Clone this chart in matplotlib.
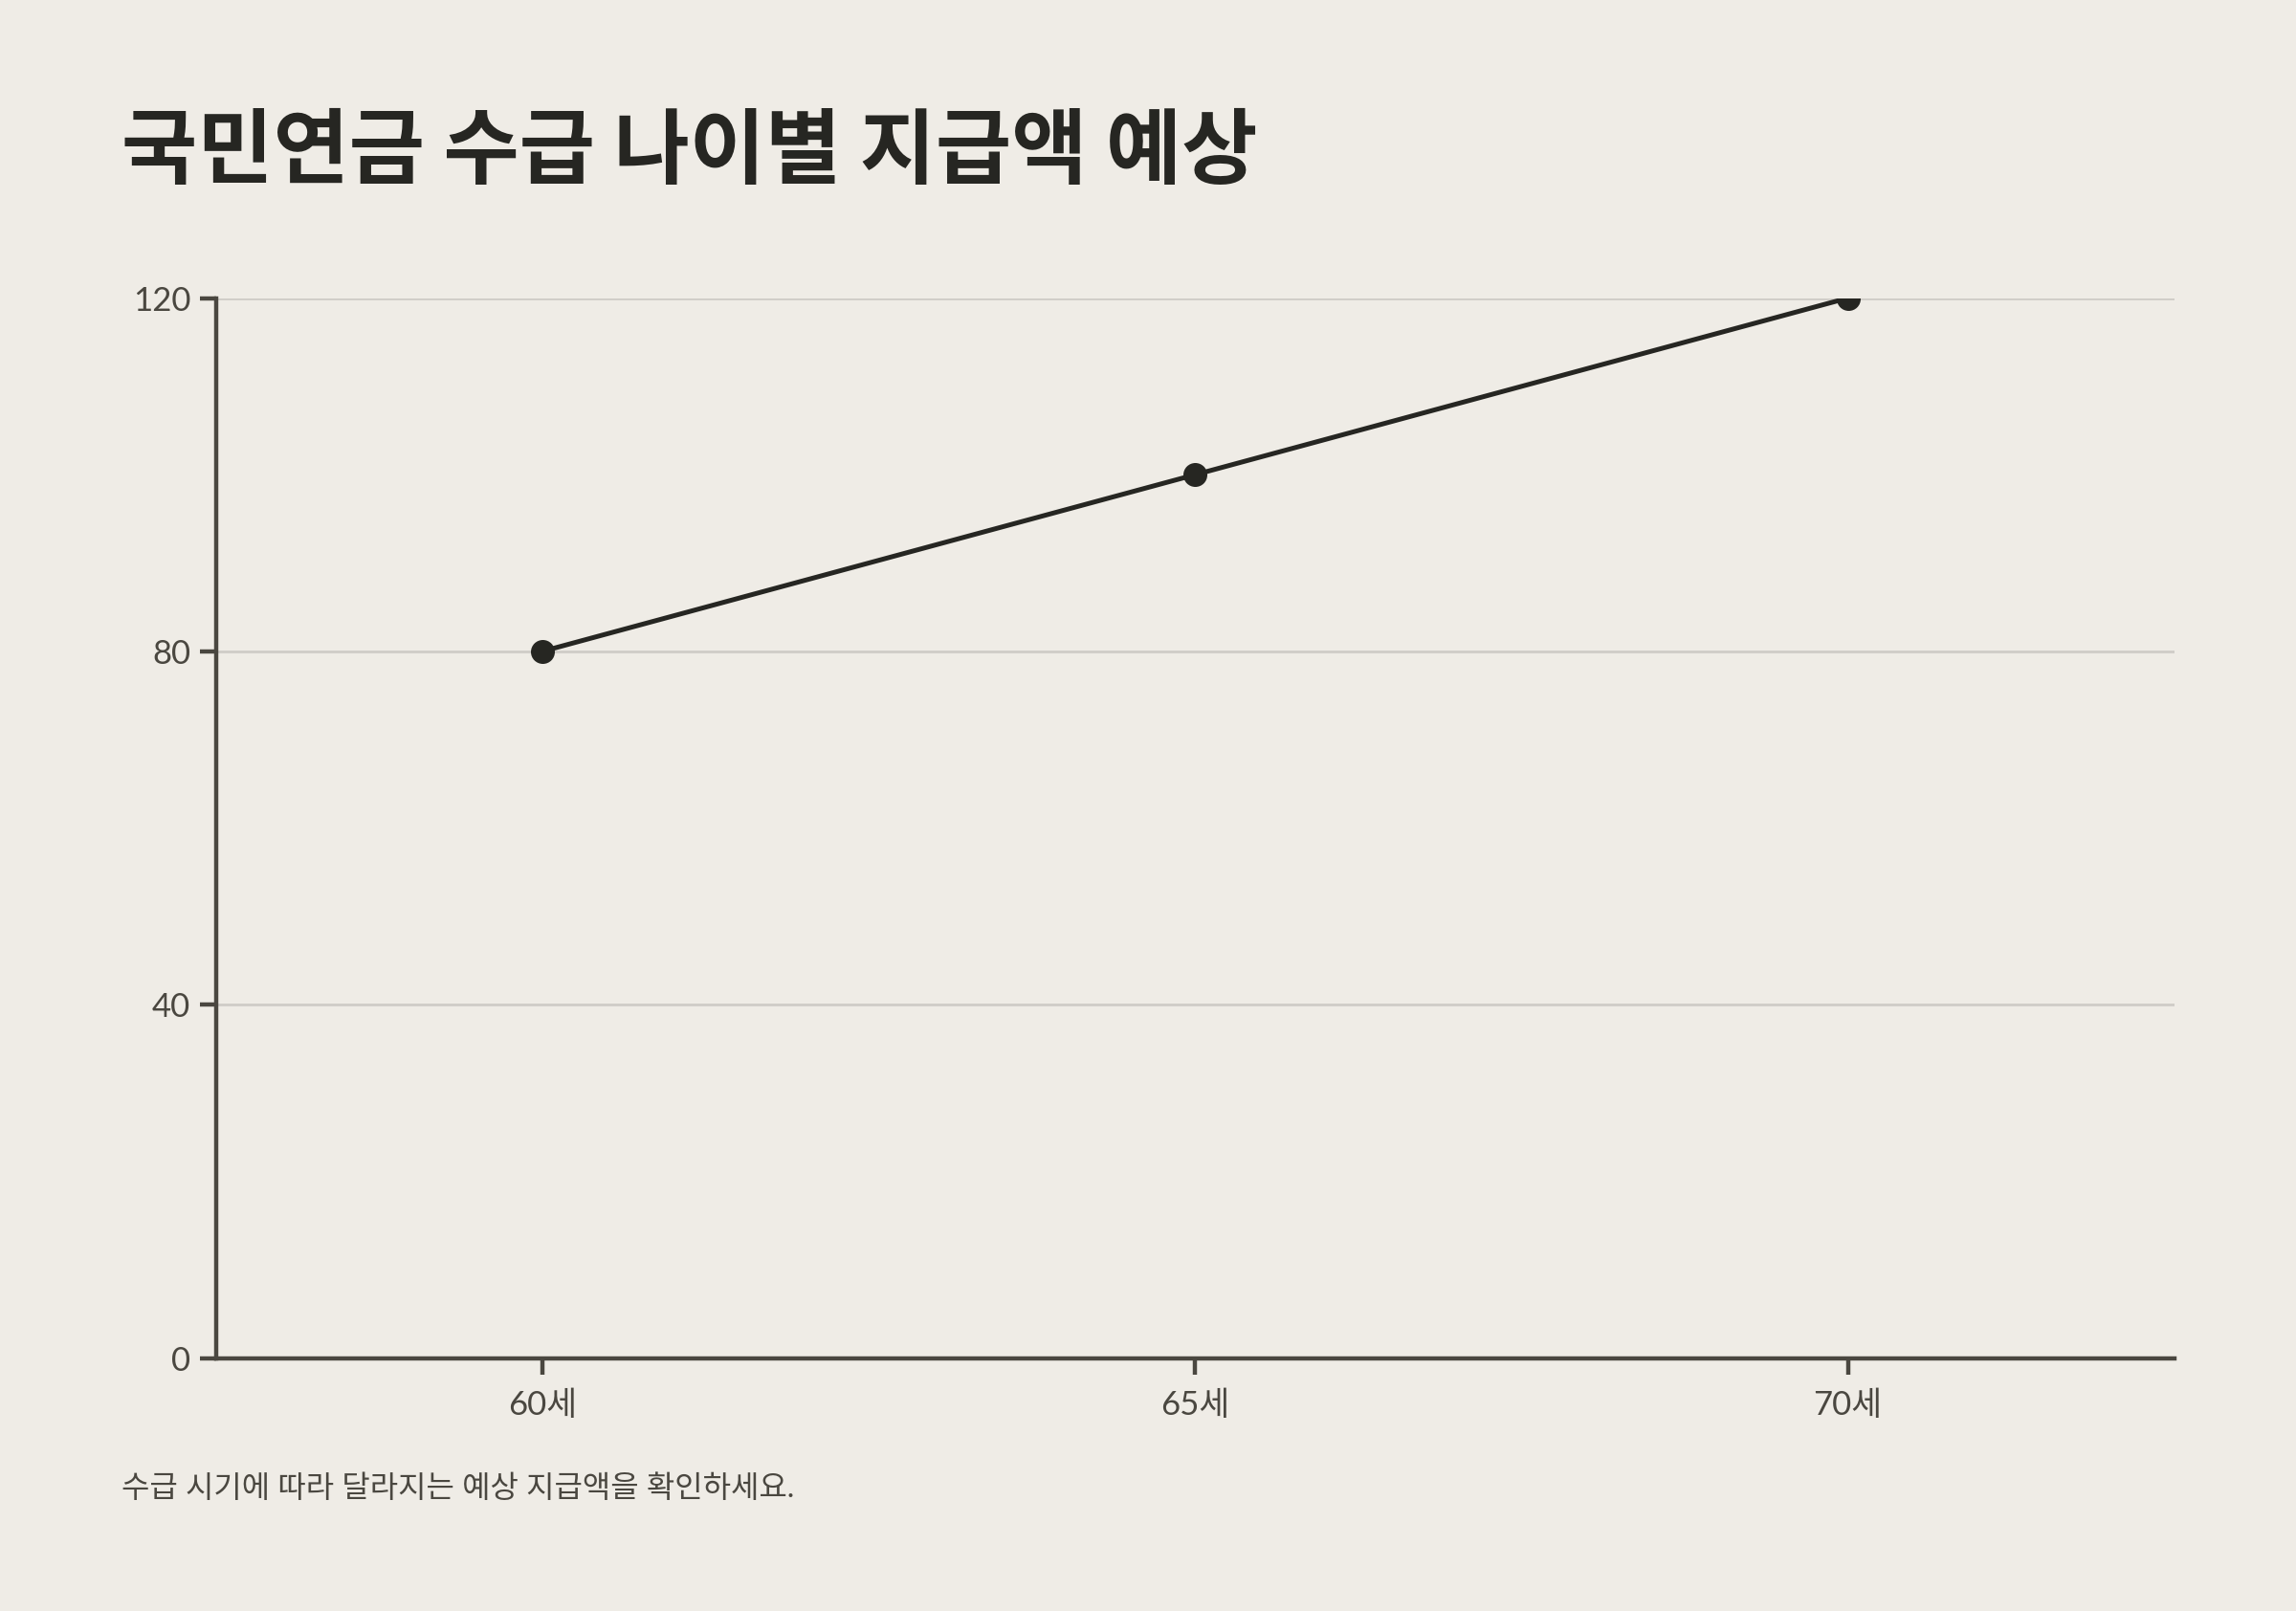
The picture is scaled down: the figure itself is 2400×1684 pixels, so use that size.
import matplotlib.pyplot as plt

plt.rcParams['font.family'] = ['Lato', 'Noto Sans CJK KR', 'DejaVu Sans']

ages = ['60세', '65세', '70세']
amounts = [80, 100, 120]
yticks = [0, 40, 80, 120]

bg = '#efece6'
ink = '#262622'

fig = plt.figure(figsize=(12, 8.42), dpi=200, facecolor=bg)
ax = fig.add_axes([0.094, 0.157, 0.853, 0.658], facecolor=bg)

x = range(len(ages))
ax.plot(x, amounts, color=ink, lw=1.8, marker='o', markersize=8, zorder=3)

ax.set_xlim(-0.5, 2.5)
ax.set_ylim(0, 120)
ax.set_xticks(list(x))
ax.set_xticklabels(ages)
ax.set_yticks(yticks)
ax.grid(axis='y', color='#cfccc7', lw=1)
ax.set_axisbelow(True)
for s in ['top', 'right']:
    ax.spines[s].set_visible(False)
for s in ['left', 'bottom']:
    ax.spines[s].set_color('#4a4740')
    ax.spines[s].set_linewidth(1.6)
ax.tick_params(axis='y', colors='#4a4740', labelcolor='#4a4740', labelsize=12.5, length=6, width=1.6)
ax.tick_params(axis='x', colors='#4a4740', labelcolor='#4a4740', labelsize=12.5, length=6, width=1.6, pad=6)

fig.text(0.053, 0.905, '국민연금 수급 나이별 지급액 예상', fontsize=31, fontweight='bold',
         color=ink, va='center', family=['Noto Sans CJK KR'])
fig.text(0.053, 0.076, '수급 시기에 따라 달라지는 예상 지급액을 확인하세요.', fontsize=11.5,
         color='#4a4740', va='center')

plt.savefig('out.png', facecolor=bg)
